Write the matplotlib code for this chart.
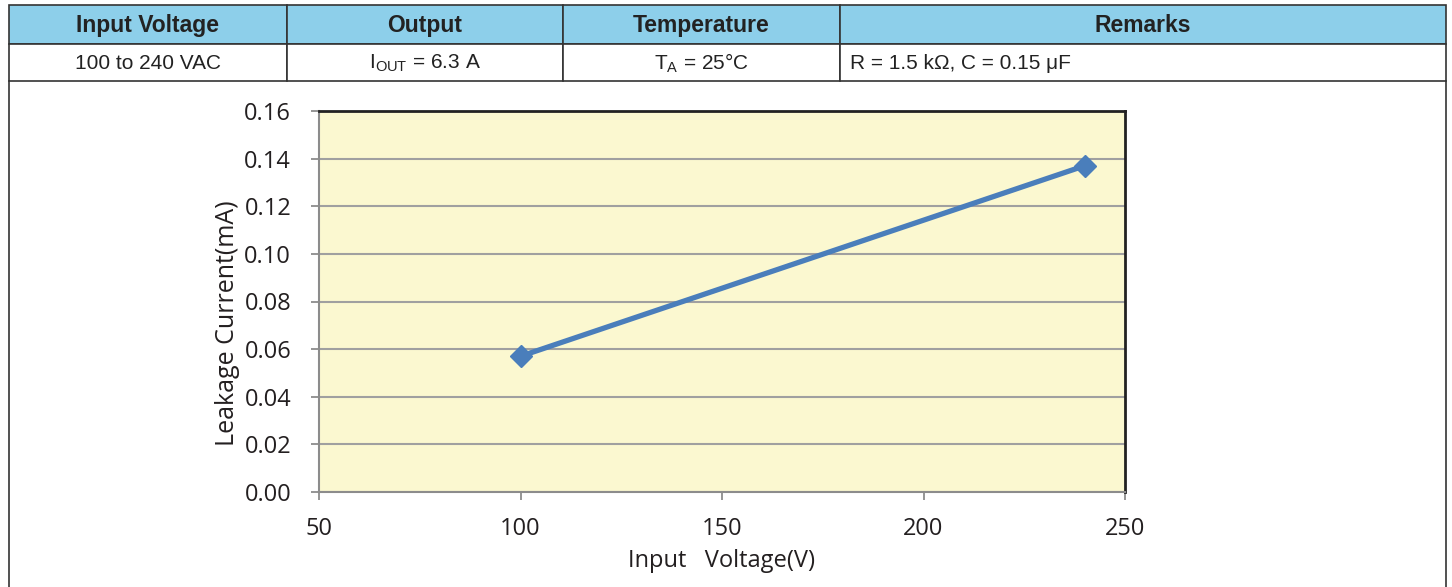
import matplotlib
matplotlib.use('Agg')
import matplotlib.pyplot as plt
from matplotlib.patches import Rectangle
from matplotlib.lines import Line2D
from matplotlib.ticker import MultipleLocator, FormatStrFormatter

# Dados
tensao = [100, 240]
corrente = [0.057, 0.137]

cabecalhos = ['Input Voltage', 'Output', 'Temperature', 'Remarks']
valores = ['100 to 240 VAC', r'I$_{\mathrm{OUT}}$ = 6.3 A', r'T$_{\mathrm{A}}$ = 25°C',
           'R = 1.5 kΩ, C = 0.15 μF']

plt.rcParams['mathtext.fontset'] = 'custom'
plt.rcParams['mathtext.rm'] = 'Liberation Sans'

W, H = 1452, 587
fig = plt.figure(figsize=(W / 100, H / 100), dpi=100)

def fx(px):
    return px / W

def fy(py):
    return 1 - py / H

# Tabela no topo
col_x = [9, 287, 563, 840, 1446]
y_top, y_mid, y_bot = 5, 44, 81
cor_cab = '#8DCFEA'
cor_borda = '#333333'

for i in range(4):
    x0, x1 = col_x[i], col_x[i + 1]
    fig.patches.append(Rectangle((fx(x0), fy(y_mid)), fx(x1 - x0), (y_mid - y_top) / H,
                                 transform=fig.transFigure, facecolor=cor_cab,
                                 edgecolor=cor_borda, linewidth=1.2))
    fig.patches.append(Rectangle((fx(x0), fy(y_bot)), fx(x1 - x0), (y_bot - y_mid) / H,
                                 transform=fig.transFigure, facecolor='white',
                                 edgecolor=cor_borda, linewidth=1.2))
    fig.text(fx((x0 + x1) / 2), fy((y_top + y_mid) / 2 + 1), cabecalhos[i], ha='center', va='center',
             fontsize=16.5, fontweight='bold', family='Liberation Sans', color='#222222')
    if i < 3:
        fig.text(fx((x0 + x1) / 2), fy((y_mid + y_bot) / 2 + 1), valores[i], ha='center',
                 va='center', fontsize=15, family='Liberation Sans', color='#222222')
    else:
        fig.text(fx(x0 + 10), fy((y_mid + y_bot) / 2 + 1), valores[i], ha='left',
                 va='center', fontsize=15, family='Liberation Sans', color='#222222')

# Moldura lateral
for xl in (col_x[0], col_x[-1]):
    fig.lines.append(Line2D([fx(xl), fx(xl)], [fy(y_bot), 0], transform=fig.transFigure,
                            color=cor_borda, linewidth=1.2))

# Grafico
ax = fig.add_axes([fx(319), fy(492), fx(1125 - 319), (492 - 111) / H])
ax.set_facecolor('#FBF8D0')
ax.plot(tensao, corrente, color='#4A7EBB', linewidth=3.8, marker='D', markersize=11,
        markerfacecolor='#4A7EBB', markeredgecolor='#4A7EBB', zorder=3)

ax.set_xlim(50, 250)
ax.set_ylim(0, 0.16)
ax.xaxis.set_major_locator(MultipleLocator(50))
ax.yaxis.set_major_locator(MultipleLocator(0.02))
ax.yaxis.set_major_formatter(FormatStrFormatter('%.2f'))
ax.yaxis.grid(True, color='#A0A0A0', linewidth=1.5)
ax.set_axisbelow(True)

for lado in ('left', 'bottom'):
    ax.spines[lado].set_color('#8C8C8C')
    ax.spines[lado].set_linewidth(1.5)
for lado in ('top', 'right'):
    ax.spines[lado].set_color('#222222')
    ax.spines[lado].set_linewidth(2)

ax.tick_params(direction='out', length=6, width=1.3, color='#8C8C8C',
               labelsize=17, labelcolor='#231F20')
ax.tick_params(axis='y', pad=14)
ax.tick_params(axis='x', pad=12)
for lbl in ax.get_xticklabels() + ax.get_yticklabels():
    lbl.set_family('Open Sans')

ax.set_xlabel('Input   Voltage(V)', fontsize=17, family='Open Sans', color='#231F20', labelpad=6)
ax.set_ylabel('Leakage Current(mA)', fontsize=18, family='Open Sans', color='#231F20',
              va='center')
ax.yaxis.set_label_coords(-0.113, 0.444)

plt.savefig('out.png', dpi=100)
plt.close()
